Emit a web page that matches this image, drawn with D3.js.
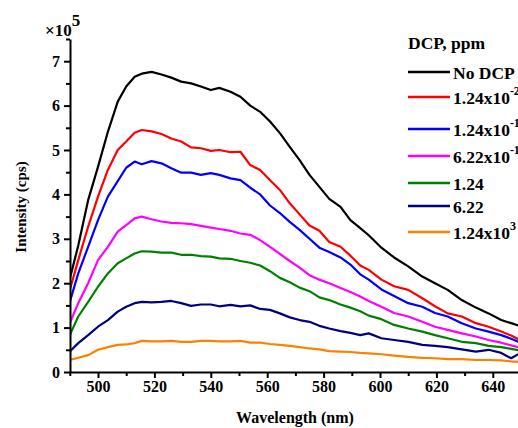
<!DOCTYPE html>
<html><head><meta charset="utf-8">
<script src="https://cdn.jsdelivr.net/npm/d3@7"></script>
<style>
html,body{margin:0;padding:0;background:#fff;overflow:hidden;}
text{font-family:"Liberation Serif","Times New Roman",serif;font-weight:bold;fill:#000;}
</style></head>
<body><svg id="chart" width="518" height="428"></svg>
<script>
const wavelengths = [490,493,496.5,500,503.5,507,510,513,515.5,519,522.5,526,529.5,533,536.5,540,543,547,550.5,554,557.5,561,564.5,568,571.5,575,578.5,582,586,589.5,593,596,600.5,605,610,615,619.5,624,629,634,638.5,643,646.5,649];
const noDCP = [2.1,2.85,3.87,4.62,5.41,6.09,6.43,6.65,6.72,6.76,6.70,6.63,6.54,6.50,6.43,6.35,6.40,6.31,6.20,6.00,5.86,5.64,5.38,5.07,4.77,4.44,4.17,3.90,3.72,3.42,3.24,3.08,2.80,2.58,2.38,2.15,2.00,1.85,1.62,1.45,1.32,1.17,1.10,1.05];
const dcp1_24e_2 = [1.85,2.52,3.27,3.95,4.55,5.0,5.19,5.39,5.45,5.42,5.36,5.26,5.19,5.06,5.04,4.98,5.0,4.95,4.96,4.66,4.55,4.32,4.10,3.80,3.55,3.30,3.18,2.93,2.82,2.62,2.40,2.30,2.08,1.93,1.85,1.66,1.48,1.32,1.25,1.10,1.02,0.91,0.82,0.74];
const dcp1_24e_1 = [1.58,2.22,2.82,3.42,3.95,4.30,4.60,4.74,4.68,4.75,4.70,4.59,4.49,4.49,4.44,4.48,4.44,4.36,4.32,4.15,4.00,3.75,3.58,3.38,3.20,3.00,2.80,2.70,2.58,2.42,2.20,2.08,1.86,1.71,1.55,1.47,1.33,1.25,1.10,0.98,0.91,0.83,0.75,0.68];
const dcp6_22e_1 = [1.10,1.55,2.0,2.52,2.82,3.16,3.31,3.46,3.50,3.44,3.39,3.36,3.35,3.33,3.29,3.25,3.22,3.18,3.12,3.09,2.97,2.82,2.66,2.50,2.35,2.18,2.08,2.0,1.89,1.80,1.70,1.60,1.47,1.33,1.25,1.13,1.02,0.95,0.87,0.80,0.72,0.66,0.60,0.56];
const dcp1_24 = [0.83,1.25,1.58,1.92,2.22,2.45,2.56,2.67,2.72,2.71,2.69,2.69,2.64,2.64,2.61,2.60,2.56,2.55,2.50,2.46,2.40,2.27,2.12,2.02,1.90,1.82,1.68,1.62,1.52,1.45,1.37,1.27,1.19,1.06,0.98,0.91,0.83,0.76,0.68,0.65,0.59,0.56,0.52,0.49];
const dcp6_22 = [0.46,0.65,0.83,1.02,1.17,1.36,1.47,1.55,1.58,1.57,1.58,1.60,1.55,1.49,1.52,1.52,1.48,1.51,1.48,1.50,1.42,1.40,1.32,1.23,1.17,1.13,1.04,0.98,0.92,0.88,0.83,0.87,0.76,0.72,0.68,0.61,0.59,0.56,0.51,0.46,0.50,0.43,0.31,0.40];
const dcp1_24e3 = [0.27,0.32,0.38,0.50,0.56,0.61,0.62,0.65,0.70,0.69,0.69,0.70,0.68,0.68,0.70,0.70,0.69,0.69,0.70,0.66,0.66,0.63,0.61,0.59,0.56,0.53,0.51,0.47,0.46,0.45,0.43,0.42,0.40,0.37,0.34,0.32,0.31,0.29,0.29,0.27,0.27,0.26,0.24,0.23];

const seriesNames = [["No DCP",""],["1.24x10","-2"],["1.24x10","-1"],["6.22x10","-1"],["1.24",""],["6.22",""],["1.24x10","3"]];
const seriesValues = [noDCP,dcp1_24e_2,dcp1_24e_1,dcp6_22e_1,dcp1_24,dcp6_22,dcp1_24e3];
const seriesColors = ["#000000","#ff0000","#0000ff","#ff00ff","#008000","#000080","#ff8000"];
const xTicks = [500,520,540,560,580,600,620,640];
const yTicks = [0,1,2,3,4,5,6,7];

const svg = d3.select("#chart");
const x = d3.scaleLinear().domain([490,650]).range([69.8,521]);
const y = d3.scaleLinear().domain([0,7.5]).range([372,39]);

svg.append("defs").append("clipPath").attr("id","clip")
  .append("rect").attr("x",70).attr("y",39).attr("width",460).attr("height",333);

const line = d3.line().x(d=>x(d[0])).y(d=>y(d[1]));
const g = svg.append("g").attr("clip-path","url(#clip)");
seriesValues.forEach((vals,i)=>{
  g.append("path").datum(wavelengths.map((w,j)=>[w,vals[j]]))
    .attr("d",line).attr("fill","none").attr("stroke",seriesColors[i])
    .attr("stroke-width",2.2).attr("stroke-linejoin","round");
});

// Axes
const xAxis = svg.append("g").attr("transform","translate(0,372)")
  .call(d3.axisBottom(x).tickValues(xTicks).tickSize(6).tickSizeOuter(0).tickPadding(3).tickFormat(d3.format("d")));
const xMinor = svg.append("g").attr("transform","translate(0,372)")
  .call(d3.axisBottom(x).tickValues(d3.range(490,651,10).filter(v=>v%20!==0)).tickSize(4).tickSizeOuter(0).tickFormat(""));
xMinor.select(".domain").remove();
const yAxis = svg.append("g").attr("transform","translate(70,0)")
  .call(d3.axisLeft(y).tickValues(yTicks).tickSize(6).tickSizeOuter(0).tickPadding(4).tickFormat(d3.format("d")));
const yMinor = svg.append("g").attr("transform","translate(70,0)")
  .call(d3.axisLeft(y).tickValues(d3.range(0.5,7.6,1)).tickSize(4).tickSizeOuter(0).tickFormat(""));
yMinor.select(".domain").remove();
[xAxis,yAxis,xMinor,yMinor].forEach(a=>{
  a.selectAll(".domain").attr("stroke","#000").attr("stroke-width",2);
  a.selectAll(".tick line").attr("stroke","#000").attr("stroke-width",2);
  a.selectAll("text").style("font-size","16px").style("font-family",'"Liberation Serif",serif').style("font-weight","bold");
});

// Multiplier
const mult = svg.append("text").attr("x",45).attr("y",36).style("font-size","17px");
mult.append("tspan").text("×10");
mult.append("tspan").attr("dy",-10).style("font-size","17px").text("5");

// Axis titles
svg.append("text").attr("x",295).attr("y",423).attr("text-anchor","middle").style("font-size","16px").text("Wavelength (nm)");
svg.append("text").attr("transform","translate(26,207) rotate(-90)").attr("text-anchor","middle").style("font-size","15px").text("Intensity (cps)");

// Legend
svg.append("text").attr("x",408).attr("y",49).style("font-size","17.5px").text("DCP, ppm");
const legY = [72,97,129,156,183,206,232];
seriesNames.forEach((nm,i)=>{
  svg.append("line").attr("x1",408).attr("x2",450).attr("y1",legY[i]).attr("y2",legY[i])
    .attr("stroke",seriesColors[i]).attr("stroke-width",2.5);
  const t = svg.append("text").attr("x",453).attr("y",legY[i]+6.5).style("font-size","17.5px");
  t.append("tspan").text(nm[0]);
  if(nm[1]) t.append("tspan").attr("dy",-8.5).style("font-size","12px").text(nm[1]);
});
</script></body></html>
